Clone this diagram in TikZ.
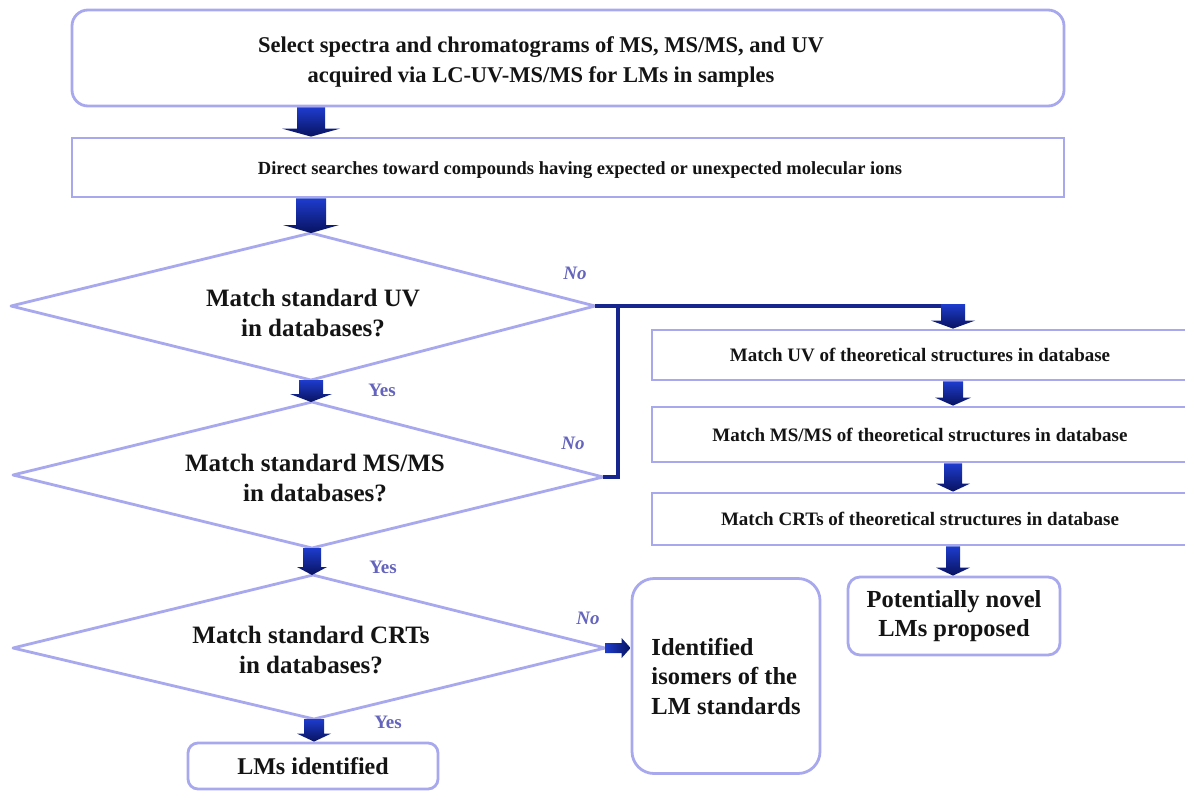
\documentclass[tikz,border=0pt]{standalone}
\usepackage{fontspec}
\setmainfont{Liberation Serif}
\usetikzlibrary{calc}
\definecolor{bord}{RGB}{168,168,238}
\definecolor{conncol}{RGB}{22,38,140}
\definecolor{arrtop}{RGB}{30,60,205}
\definecolor{arrbot}{RGB}{8,18,95}
\definecolor{labcol}{RGB}{100,100,190}
\definecolor{txt}{RGB}{20,20,20}
\newcommand\vblk[4]{%
  \shade[top color=arrtop, bottom color=arrbot] let \p1=(#1), \p2=(#2) in
  (\x1-#3,\y1) -- (\x1+#3,\y1) -- (\x1+#3,\y2+8pt) -- (\x1+#4,\y2+8pt) -- (\x1,\y2)
  -- (\x1-#4,\y2+8pt) -- (\x1-#3,\y2+8pt) -- cycle;}
\newcommand\hblk[4]{%
  \shade[left color=arrtop, right color=arrbot] let \p1=(#1), \p2=(#2) in
  (\x1,\y1+#3) -- (\x2-9pt,\y1+#3) -- (\x2-9pt,\y1+#4) -- (\x2,\y1)
  -- (\x2-9pt,\y1-#4) -- (\x2-9pt,\y1-#3) -- (\x1,\y1-#3) -- cycle;}
\tikzset{
  bx/.style={draw=bord, line width=2.8pt, fill=white, inner sep=0pt, align=center, text=txt},
  rbx/.style={bx, rounded corners=#1},
  diaedge/.style={draw=bord, line width=2.8pt, line join=round},
  dtext/.style={align=center, text=txt, inner sep=0pt, font=\fontsize{25}{30}\selectfont\bfseries},
  plaintext/.style={align=center, text=txt, inner sep=0pt},
  conn/.style={draw=conncol, line width=4pt},
  yeslab/.style={text=labcol, inner sep=0pt, font=\fontsize{19}{19}\selectfont\bfseries},
  nolab/.style={text=labcol, inner sep=0pt, font=\fontsize{19}{19}\selectfont\bfseries\itshape},
}
\begin{document}
\begin{tikzpicture}[x=1pt,y=-1pt]
\useasboundingbox[fill=white] (0,0) rectangle (1185,790);
% top boxes
\node[rbx=16pt, minimum width=992pt, minimum height=96pt] (top) at (568,58) {};
\node[plaintext, font=\fontsize{22.5}{30}\selectfont\bfseries] (toptxt) at (541,62)
  {Select spectra and chromatograms of MS, MS/MS, and UV\\acquired via LC-UV-MS/MS for LMs in samples};
\node[bx, minimum width=992pt, minimum height=59pt] (search) at (568,167.5) {};
\node[plaintext, font=\fontsize{18.5}{20}\selectfont\bfseries] (searchtxt) at (580,170)
  {Direct searches toward compounds having expected or unexpected molecular ions};
% diamonds
\coordinate (d1l) at (11,306); \coordinate (d1t) at (311,233); \coordinate (d1r) at (595,306); \coordinate (d1b) at (311,380);
\draw[diaedge] (d1l) -- (d1t) -- (d1r) -- (d1b) -- cycle;
\node[dtext] (d1) at (313,313) {Match standard UV\\in databases?};
\coordinate (d2l) at (13,475); \coordinate (d2t) at (312,402); \coordinate (d2r) at (603,477); \coordinate (d2b) at (312,548);
\draw[diaedge] (d2l) -- (d2t) -- (d2r) -- (d2b) -- cycle;
\node[dtext] (d2) at (315,478) {Match standard MS/MS\\in databases?};
\coordinate (d3l) at (13,648); \coordinate (d3t) at (313,575); \coordinate (d3r) at (605,648); \coordinate (d3b) at (314,719);
\draw[diaedge] (d3l) -- (d3t) -- (d3r) -- (d3b) -- cycle;
\node[dtext] (d3) at (311,650) {Match standard CRTs\\in databases?};
% result boxes
\node[rbx=10pt, minimum width=250pt, minimum height=46pt, font=\fontsize{24}{28}\selectfont\bfseries] (lms) at (313,766) {LMs identified};
\node[bx, minimum width=536pt, minimum height=50pt, font=\fontsize{19}{20}\selectfont\bfseries] (uv) at (920,355)
  {Match UV of theoretical structures in database};
\node[bx, minimum width=536pt, minimum height=55pt, font=\fontsize{19}{20}\selectfont\bfseries] (ms) at (920,434.5)
  {Match MS/MS of theoretical structures in database};
\node[bx, minimum width=536pt, minimum height=52pt, font=\fontsize{19}{20}\selectfont\bfseries] (crt) at (920,519)
  {Match CRTs of theoretical structures in database};
\node[rbx=12pt, minimum width=212pt, minimum height=78pt, font=\fontsize{24.5}{29}\selectfont\bfseries] (novel) at (954,616)
  {Potentially novel\\LMs proposed};
\node[rbx=22pt, minimum width=188pt, minimum height=195pt, align=left, font=\fontsize{24.5}{29.5}\selectfont\bfseries] (iso) at (726,676)
  {Identified\\isomers of the\\LM standards};
% connectors
\coordinate (turn) at (953,306);
\coordinate (turnup) at (953,304);
\coordinate (jn) at (618,306);
\draw[conn] (d1r) -- (turn);
\draw[conn] (d2r) -- (d2r -| jn) -- (jn);
% block arrows
\vblk{top.south -| d1t}{search.north -| d1t}{14pt}{29pt}
\vblk{search.south -| d1t}{d1t}{15pt}{28pt}
\vblk{d1b}{d2t}{12pt}{21pt}
\vblk{d2b}{d3t}{9pt}{15pt}
\vblk{d3b}{lms.north -| d3b}{10pt}{17pt}
\vblk{turnup}{uv.north -| turn}{12pt}{22pt}
\vblk{uv.south -| turn}{ms.north -| turn}{10pt}{18pt}
\vblk{ms.south -| turn}{crt.north -| turn}{9pt}{17pt}
\vblk{crt.south -| turn}{novel.north -| turn}{7pt}{17pt}
\hblk{d3r}{iso.west}{5pt}{10pt}
% labels
\node[yeslab] (y1) at (382,390) {Yes};
\node[yeslab] (y2) at (383,567) {Yes};
\node[yeslab] (y3) at (388,722) {Yes};
\node[nolab] (n1) at (575,273) {No};
\node[nolab] (n2) at (573,443) {No};
\node[nolab] (n3) at (588,618) {No};
\end{tikzpicture}
\end{document}
